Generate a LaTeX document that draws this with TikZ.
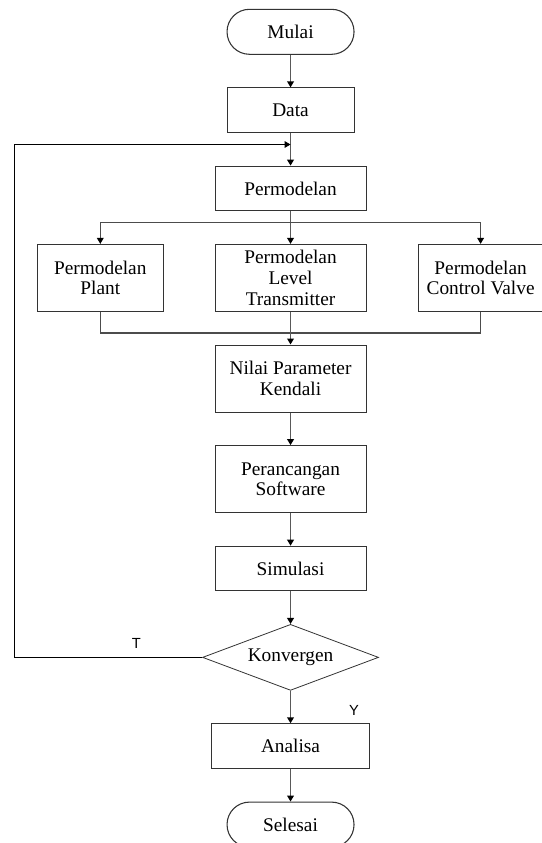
\documentclass[tikz,border=0pt]{standalone}
\usepackage{fontspec}
\setmainfont{Liberation Serif}
\newfontfamily\labelfont{Liberation Sans}
\usetikzlibrary{positioning}
\usetikzlibrary{arrows.meta,shapes.geometric}

\begin{document}
\begin{tikzpicture}[node distance=24.4pt,
  every node/.style={font=\fontsize{14.5}{15.5}\selectfont, align=center},
  box/.style={draw=black!80, line width=0.8pt, minimum width=113.25pt, minimum height=33.5pt, inner sep=2pt},
  tall/.style={box, minimum height=50.25pt},
  term/.style={box, minimum width=95.25pt, minimum height=33.75pt, rounded corners=16.8pt},
  dec/.style={draw=black!80, line width=0.6pt, diamond, aspect=2.67, minimum width=132pt, minimum height=49.5pt, inner sep=0pt},
  flow/.style={draw=black!65, line width=1.3pt, -{Triangle[length=4.5pt,width=5pt,black]}},
  link/.style={draw=black!70, line width=0.9pt},
  back/.style={draw=black, line width=0.7pt, -{Triangle[length=4.5pt,width=5pt]}},
  yn/.style={font=\labelfont\fontsize{11}{11}\selectfont}]
  \useasboundingbox (0,0) rectangle (406.5pt,-632.25pt);

  \node [term] (start) at (217.9pt,-23.85pt) {Mulai};
  \node [box, below=of start, minimum width=95.25pt] (data) {Data};
  \node [box, below=of data] (model) {Permodelan};
  \node [tall, below=of model] (level) {Permodelan\\Level\\Transmitter};
  \node [tall, left=38pt of level, minimum width=94.5pt] (plant) {Permodelan\\Plant};
  \node [tall, right=38.25pt of level, minimum width=93.75pt] (valve) {Permodelan\\Control Valve};
  \node [tall, below=of level] (param) {Nilai Parameter\\Kendali};
  \node [tall, below=of param] (soft) {Perancangan\\Software};
  \node [box, below=of soft] (sim) {Simulasi};
  \node [dec, below=of sim] (conv) {Konvergen};
  \node [box, below=of conv, minimum width=118pt] (anal) {Analisa};
  \node [term, below=of anal] (stop) {Selesai};

  \coordinate (join) at ([yshift=-8.55pt]data.south);
  \coordinate (split) at ([yshift=-8.25pt]model.south);
  \coordinate (merge) at ([yshift=8.7pt]param.north);
  \coordinate (edge) at (10.5pt,0);

  \draw [flow] (start) -- (data);
  \draw [flow] (data) -- (model);
  \draw [flow] (model) -- (level);
  \draw [link, -{Triangle[length=4.5pt,width=5pt,black]}] (split) -| (plant.north);
  \draw [link, -{Triangle[length=4.5pt,width=5pt,black]}] (split) -| (valve.north);
  \draw [link] (plant.south) |- (merge) -| (valve.south);
  \draw [flow] (level) -- (param);
  \draw [flow] (param) -- (soft);
  \draw [flow] (soft) -- (sim);
  \draw [flow] (sim) -- (conv);
  \draw [flow] (conv) -- node [yn, pos=0.6, xshift=47.6pt] {Y} (anal);
  \draw [flow] (anal) -- (stop);

  % not converged: back to the model
  \draw [back] (conv.west) -- node [yn, pos=0.35, above=3pt] {T} (conv.west -| edge) |- (join);
\end{tikzpicture}
\end{document}
